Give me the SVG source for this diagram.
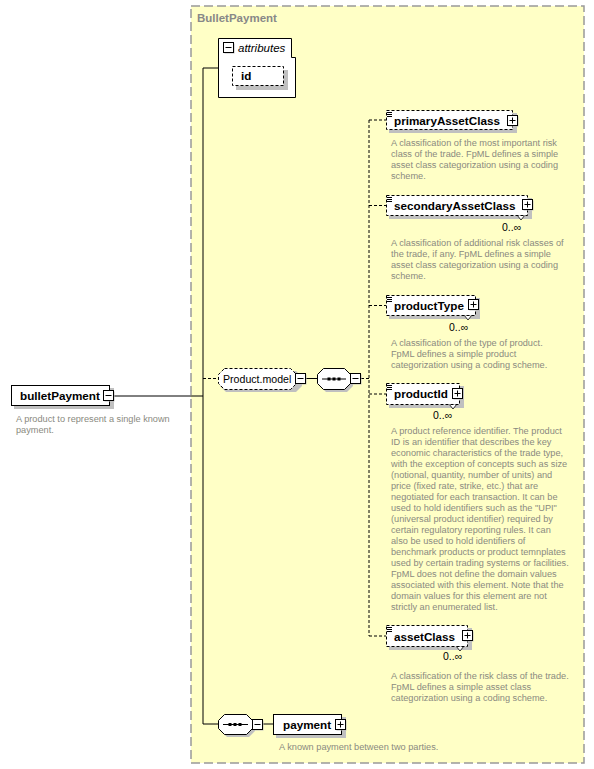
<svg xmlns="http://www.w3.org/2000/svg" width="594" height="769" viewBox="0 0 594 769">
<style>
.lbl{font-family:"Liberation Sans",Arial,sans-serif;font-size:11.7px;font-weight:bold;fill:#000}
.desc{font-family:"Liberation Sans",Arial,sans-serif;font-size:9.2px;fill:#8a8a80}
.occ{font-family:"Liberation Sans",Arial,sans-serif;font-size:10.5px;fill:#000}
.box{fill:#fff;stroke:#000;stroke-width:1}
.opt{fill:#fff;stroke:#000;stroke-width:1;stroke-dasharray:3,2}
.shd{fill:#c0c0c0}
.ln{fill:none;stroke:#000;stroke-width:1}
.dl{fill:none;stroke:#000;stroke-width:1;stroke-dasharray:3,2}
.ic{fill:#fff;stroke:#000;stroke-width:1}
</style>
<defs>
<g id="plus"><rect class="shd" x="1.5" y="1.5" width="10" height="10"/><rect class="ic" x="0.5" y="0.5" width="10" height="10"/><path class="ln" d="M2.5,5.5H8.5M5.5,2.5V8.5"/></g>
<g id="minus"><rect class="shd" x="1.5" y="1.5" width="10" height="10"/><rect class="ic" x="0.5" y="0.5" width="10" height="10"/><path class="ln" d="M2.5,5.5H8.5"/></g>
<g id="doc"><path d="M1,1.5H6M1,3.5H6M1,5.5H6" stroke="#000" stroke-width="1" fill="none"/></g>
</defs>

<g id="BulletPayment">
<rect x="191" y="6" width="393" height="757" fill="#ffffc6" stroke="#999" stroke-width="1.5" stroke-dasharray="9,4"/>
<text x="197" y="22" font-family="Liberation Sans,Arial,sans-serif" font-size="11.5" font-weight="bold" fill="#888">BulletPayment</text>
</g>

<g id="connectors">
<path class="ln" d="M114,396H203M203,68V724M203,68H218M203,724H218M306,378.5H317M263,724H273"/>
<path class="dl" d="M203,378.5H218M361,378.5H369M369,120V636M369,120H386M369,205.5H386M369,305.5H386M369,394H386M369,636H386"/>
</g>

<g id="bulletPayment">
<rect class="shd" x="14" y="388" width="100" height="21"/>
<rect class="box" x="11.5" y="385.5" width="98" height="20"/>
<text class="lbl" x="20" y="400">bulletPayment</text>
<use href="#minus" x="103" y="390"/>
<text class="desc" x="16" y="421.5">A product to represent a single known</text>
<text class="desc" x="16" y="432.5">payment.</text>
</g>

<g id="attributes">
<path class="box" d="M218.5,38.5H291.5V57.5H295.5V97.5H218.5Z"/>
<use href="#minus" x="223" y="42"/>
<text x="238" y="52" font-family="Liberation Sans,Arial,sans-serif" font-size="11.5" font-style="italic">attributes</text>
</g>
<g id="id">
<rect class="shd" x="236" y="70" width="52" height="20"/>
<rect class="opt" x="232.5" y="66.5" width="51" height="19"/>
<text class="lbl" x="241" y="80">id</text>
</g>

<g id="Product.model">
<path class="shd" d="M226,371H296L302,377V386L296,392H226L220,386V377Z"/>
<path class="opt" d="M224.5,368.5H290.5L296.5,374.5V383.5L290.5,389.5H224.5L218.5,383.5V374.5Z"/>
<text x="223" y="382.5" font-family="Liberation Sans,Arial,sans-serif" font-size="10.6" fill="#000">Product.model</text>
<use href="#minus" x="295" y="373"/>
</g>

<g id="sequence1">
<path class="shd" d="M326,371H347L353,377V386L347,392H326L320,386V377Z"/>
<path class="box" d="M323.5,368.5H344.5L350.5,374.5V383.5L344.5,389.5H323.5L317.5,383.5V374.5Z"/>
<path class="ln" d="M322,379H346"/>
<rect x="327.5" y="377.5" width="3" height="3" fill="#000"/><rect x="332.5" y="377.5" width="3" height="3" fill="#000"/><rect x="337.5" y="377.5" width="3" height="3" fill="#000"/>
<use href="#minus" x="350" y="373"/>
</g>

<g id="primaryAssetClass">
<rect class="shd" x="389" y="113" width="128" height="20"/>
<rect class="opt" x="386.5" y="110.5" width="126" height="19"/>
<use href="#doc" x="386" y="111"/>
<text class="lbl" x="394" y="124.5">primaryAssetClass</text>
<use href="#plus" x="507" y="115"/>
<text class="desc" x="391" y="146">A classification of the most important risk</text>
<text class="desc" x="391" y="157">class of the trade. FpML defines a simple</text>
<text class="desc" x="391" y="168">asset class categorization using a coding</text>
<text class="desc" x="391" y="179">scheme.</text>
</g>

<g id="secondaryAssetClass">
<rect class="shd" x="389" y="198" width="143" height="21"/>
<path d="M517,215L521,220L525,215Z" fill="#fff" stroke="#000" stroke-width="0.8"/>
<rect class="opt" x="386.5" y="195.5" width="141" height="20"/>
<use href="#doc" x="386" y="196"/>
<text class="lbl" x="394" y="210">secondaryAssetClass</text>
<use href="#plus" x="522" y="199"/>
<text class="occ" x="502" y="231">0..∞</text>
<text class="desc" x="391" y="246">A classification of additional risk classes of</text>
<text class="desc" x="391" y="257">the trade, if any. FpML defines a simple</text>
<text class="desc" x="391" y="268">asset class categorization using a coding</text>
<text class="desc" x="391" y="279">scheme.</text>
</g>

<g id="productType">
<rect class="shd" x="389" y="298" width="91" height="21"/>
<path d="M464,315L468,320L472,315Z" fill="#fff" stroke="#000" stroke-width="0.8"/>
<rect class="opt" x="386.5" y="295.5" width="89" height="20"/>
<use href="#doc" x="386" y="296"/>
<text class="lbl" x="394" y="310">productType</text>
<use href="#plus" x="468" y="299"/>
<text class="occ" x="449" y="331">0..∞</text>
<text class="desc" x="391" y="346">A classification of the type of product.</text>
<text class="desc" x="391" y="357">FpML defines a simple product</text>
<text class="desc" x="391" y="368">categorization using a coding scheme.</text>
</g>

<g id="productId">
<rect class="shd" x="389" y="386" width="75" height="22"/>
<path d="M449,404L453,409L457,404Z" fill="#fff" stroke="#000" stroke-width="0.8"/>
<rect class="opt" x="386.5" y="383.5" width="73" height="21"/>
<use href="#doc" x="386" y="384"/>
<text class="lbl" x="394" y="398">productId</text>
<use href="#plus" x="452" y="388"/>
<text class="occ" x="433" y="419">0..∞</text>
<text class="desc" x="391" y="434">A product reference identifier. The product</text>
<text class="desc" x="391" y="445">ID is an identifier that describes the key</text>
<text class="desc" x="391" y="456">economic characteristics of the trade type,</text>
<text class="desc" x="391" y="467">with the exception of concepts such as size</text>
<text class="desc" x="391" y="478">(notional, quantity, number of units) and</text>
<text class="desc" x="391" y="489">price (fixed rate, strike, etc.) that are</text>
<text class="desc" x="391" y="500">negotiated for each transaction. It can be</text>
<text class="desc" x="391" y="511">used to hold identifiers such as the "UPI"</text>
<text class="desc" x="391" y="522">(universal product identifier) required by</text>
<text class="desc" x="391" y="533">certain regulatory reporting rules. It can</text>
<text class="desc" x="391" y="544">also be used to hold identifiers of</text>
<text class="desc" x="391" y="555">benchmark products or product temnplates</text>
<text class="desc" x="391" y="566">used by certain trading systems or facilities.</text>
<text class="desc" x="391" y="577">FpML does not define the domain values</text>
<text class="desc" x="391" y="588">associated with this element. Note that the</text>
<text class="desc" x="391" y="599">domain values for this element are not</text>
<text class="desc" x="391" y="610">strictly an enumerated list.</text>
</g>

<g id="assetClass">
<rect class="shd" x="389" y="628" width="83" height="22"/>
<path d="M456,646L460,651L464,646Z" fill="#fff" stroke="#000" stroke-width="0.8"/>
<rect class="opt" x="386.5" y="625.5" width="81" height="21"/>
<use href="#doc" x="386" y="626"/>
<text class="lbl" x="394" y="640.5">assetClass</text>
<use href="#plus" x="462" y="630"/>
<text class="occ" x="443" y="660">0..∞</text>
<text class="desc" x="391" y="679">A classification of the risk class of the trade.</text>
<text class="desc" x="391" y="690">FpML defines a simple asset class</text>
<text class="desc" x="391" y="701">categorization using a coding scheme.</text>
</g>

<g id="sequence2">
<path class="shd" d="M227,717H249L255,723V731L249,737H227L221,731V723Z"/>
<path class="box" d="M224.5,714.5H246.5L252.5,720.5V728.5L246.5,734.5H224.5L218.5,728.5V720.5Z"/>
<path class="ln" d="M223,724.5H248"/>
<rect x="228.5" y="723" width="3" height="3" fill="#000"/><rect x="233.5" y="723" width="3" height="3" fill="#000"/><rect x="238.5" y="723" width="3" height="3" fill="#000"/>
<use href="#minus" x="252" y="719"/>
</g>

<g id="payment">
<rect class="shd" x="276" y="717" width="70" height="21"/>
<rect class="box" x="273.5" y="714.5" width="68" height="20"/>
<text class="lbl" x="283" y="728.5">payment</text>
<use href="#plus" x="335" y="719"/>
<text class="desc" x="279" y="750">A known payment between two parties.</text>
</g>
</svg>
